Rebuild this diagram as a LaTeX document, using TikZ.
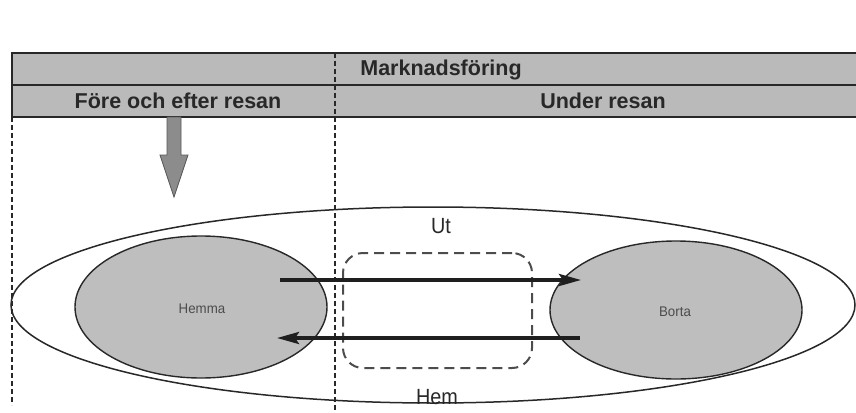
\documentclass[tikz,border=0pt]{standalone}
\usepackage{fontspec}
\setmainfont{Liberation Sans}
\newfontfamily\condfont[FakeStretch=0.9]{Liberation Sans}
\newfontfamily\smallfont[FakeStretch=0.95]{Liberation Sans}
\usetikzlibrary{shapes.geometric,arrows.meta}
\definecolor{barfill}{RGB}{186,186,186}
\definecolor{blobfill}{RGB}{190,190,190}
\definecolor{inkc}{RGB}{40,40,40}
\tikzset{
  bar/.style={draw=inkc, line width=1.8pt, fill=barfill},
  bartext/.style={font=\bfseries\fontsize{21.5}{21.5}\selectfont, text=inkc, inner sep=0},
  blob/.style={ellipse, draw=inkc, line width=1.4pt, fill=blobfill, inner sep=0},
  divider/.style={draw=inkc, line width=1.4pt, dash pattern=on 5pt off 3pt},
  flow/.style={draw=black!88, line width=3.6pt, -{Stealth[length=22pt,width=12pt,inset=4pt]}},
  small/.style={font=\smallfont\fontsize{14}{14}\selectfont, text=black!70, inner sep=0},
  lbl/.style={font=\condfont\fontsize{22}{22}\selectfont, text=inkc, inner sep=0},
}
\begin{document}
\begin{tikzpicture}[x=1pt,y=-1pt]
\useasboundingbox (0,0) rectangle (856,412);
% header bars
\path[bar] (12,53) rectangle (860,85);
\path[bar] (12,85) rectangle (860,117);
\node[bartext] (mark) at (441,70) {Marknadsföring};
\node[bartext] (fore) at (178,101) {Före och efter resan};
\node[bartext] (under) at (603,101) {Under resan};
% dividers
\coordinate (d1) at (335,53);
\coordinate (d2) at (335,412);
\coordinate (d3) at (12,117);
\coordinate (d4) at (12,405);
\draw[divider] (d1) -- (d2);
\draw[divider] (d3) -- (d4);
% gray down arrow
\path[draw=black!65, fill=black!45, line width=0.8pt]
  (167,117) -- (181,117) -- (181,155) -- (188,155) -- (174,197) -- (160,155) -- (167,155) -- cycle;
% outer ellipse
\node[ellipse, draw=inkc, line width=1.5pt, minimum width=844pt, minimum height=196pt, inner sep=0] (outer) at (433,305) {};
% blobs
\node[blob, minimum width=252pt, minimum height=142pt] (hemma) at (201,307) {};
\node[blob, minimum width=252pt, minimum height=138pt] (borta) at (676,310) {};
\node[small] (hemmat) at (202,309) {Hemma};
\node[small] (bortat) at (675,312) {Borta};
% dashed rounded box
\node[draw=black!70, line width=2pt, dash pattern=on 10pt off 6pt, rounded corners=20pt,
      minimum width=189pt, minimum height=115pt] (mid) at (437.5,310.5) {};
% labels
\node[lbl] (ut) at (441,226) {Ut};
\node[lbl] (hem) at (437,397) {Hem};
% flow arrows
\coordinate (a1) at (280,280);
\coordinate (a2) at (581,280);
\coordinate (b1) at (580,338);
\coordinate (b2) at (277,338);
\draw[flow] (a1) -- (a2);
\draw[flow] (b1) -- (b2);
\end{tikzpicture}
\end{document}
